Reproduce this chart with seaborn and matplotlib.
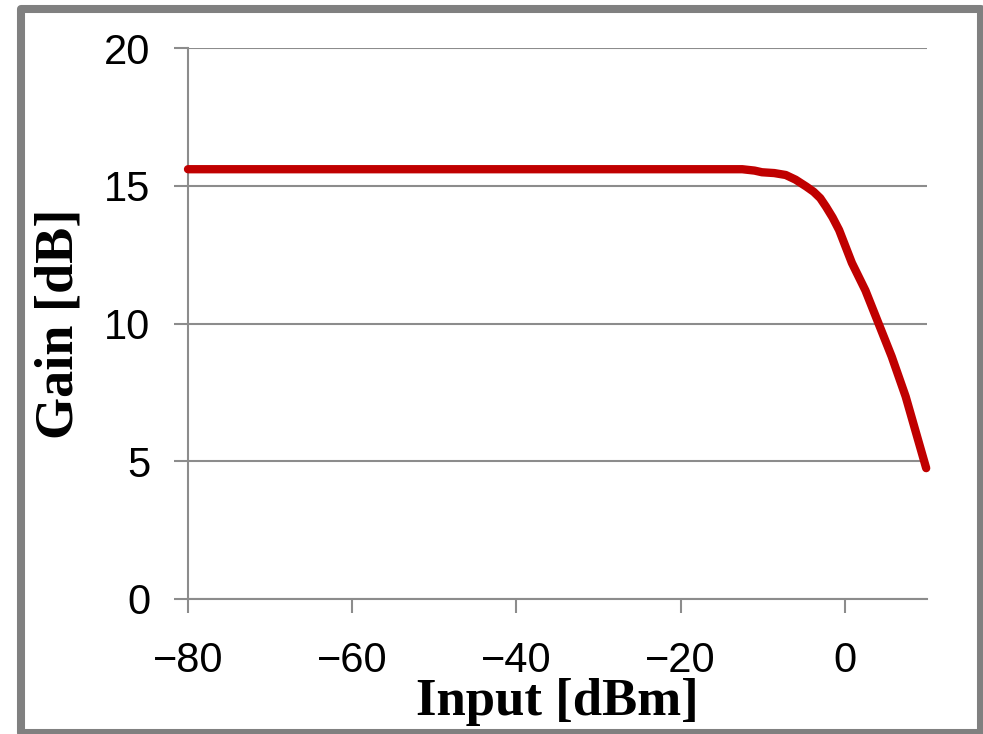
import matplotlib
matplotlib.use("Agg")
import matplotlib.pyplot as plt
import seaborn as sns
import pandas as pd
from matplotlib.patches import Rectangle

input_dbm = [-80, -60, -40, -20, -12.5, -11.0, -10.1, -8.6, -7.2, -6.0, -4.7, -3.8,
             -3.0, -2.3, -1.5, -0.7, 0.85, 2.5, 4.1, 5.7, 7.4, 8.6, 9.9]
gain_db = [15.6, 15.6, 15.6, 15.6, 15.6, 15.55, 15.49, 15.46, 15.39, 15.22, 14.97, 14.78,
           14.55, 14.24, 13.85, 13.39, 12.2, 11.2, 10.0, 8.8, 7.35, 6.1, 4.75]
x_ticks = [-80, -60, -40, -20, 0]
y_ticks = [0, 5, 10, 15, 20]

df = pd.DataFrame({"Input": input_dbm, "Gain": gain_db})

sns.set_theme(style="white")
W, H = 983, 734
fig = plt.figure(figsize=(W / 100, H / 100), dpi=100)
ax = fig.add_axes([188 / W, 1 - 599 / H, (927 - 188) / W, (599 - 48) / H])

grid_c = "#8c8c8c"
sns.lineplot(data=df, x="Input", y="Gain", ax=ax, color="#C00000", linewidth=6,
             solid_capstyle="round", solid_joinstyle="round", zorder=3, clip_on=False)

ax.set_xlim(-80, 10)
ax.set_ylim(0, 20)
ax.set_xticks(x_ticks)
ax.set_yticks(y_ticks)
ax.set_xticklabels(["\u2212" + str(-v) if v < 0 else str(v) for v in x_ticks],
                   fontfamily="Liberation Sans", fontsize=30, color="black")
ax.set_yticklabels([str(v) for v in y_ticks], fontfamily="Liberation Sans", fontsize=30,
                   color="black")
ax.yaxis.grid(True, color=grid_c, linewidth=1.5)
ax.xaxis.grid(False)
for s in ["top", "right"]:
    ax.spines[s].set_visible(False)
for s in ["left", "bottom"]:
    ax.spines[s].set_color(grid_c)
    ax.spines[s].set_linewidth(1.5)
ax.tick_params(axis="y", length=10, width=1.5, color=grid_c, pad=17, left=True)
ax.tick_params(axis="x", length=10, width=1.5, color=grid_c, pad=20, bottom=True)

ax.set_xlabel("Input [dBm]", fontfamily="Liberation Serif", fontweight="bold", fontsize=38,
              labelpad=-2, color="black")
ax.set_ylabel("Gain [dB]", fontfamily="Liberation Serif", fontweight="bold", fontsize=39,
              labelpad=14, color="black")

border = Rectangle((20.5 / W, 1 - 733 / H), (980.5 - 20.5) / W, (733 - 9) / H,
                   transform=fig.transFigure, fill=False, edgecolor="#808080",
                   linewidth=5.8, joinstyle="round", zorder=10)
fig.patches.append(border)

fig.savefig("out.png", dpi=100, facecolor="white")
